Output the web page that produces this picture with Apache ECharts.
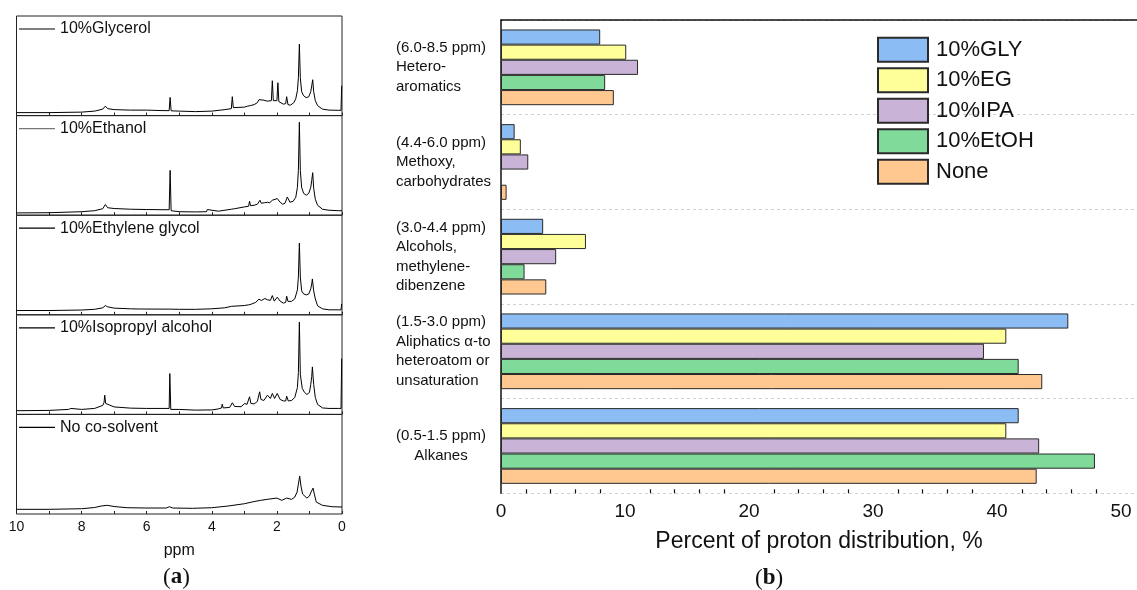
<!DOCTYPE html>
<html>
<head>
<meta charset="utf-8">
<script src="https://cdn.jsdelivr.net/npm/echarts@6/dist/echarts.min.js"></script>
<style>
html, body { margin: 0; padding: 0; background: #fff; }
#main { width: 1137px; height: 590px; }
</style>
</head>
<body>
<div id="main"></div>
<script>
// ---- (a) 1H NMR spectra: [ppm, signal height in % of its panel] ----
var specGlycerol = [
	[10.0,3],[9.0,3],[8.0,3.5],[7.6,4.5],[7.35,6.5],[7.27,9.5],[7.2,7],[7.0,6],[6.5,5.5],[6.0,5.5],[5.5,5],
	[5.31,5],[5.28,18.3],[5.25,4.8],[5.0,4.5],[4.5,4],[4.0,4.5],[3.6,6],[3.40,7],[3.37,19],[3.34,8],[3.0,8.5],
	[2.9,9.5],[2.86,11.5],[2.82,10],[2.7,11],[2.6,13],[2.55,16],[2.5,14],[2.4,15.5],[2.3,14.5],[2.24,16.5],
	[2.17,15],[2.14,35],[2.11,15],[2.05,16],[2.0,15],[1.97,33],[1.94,14],[1.88,13.5],[1.8,11.5],[1.73,12],
	[1.70,19],[1.66,11],[1.58,10.5],[1.48,13],[1.42,17],[1.37,25],[1.34,38],[1.31,71.7],[1.28,38],[1.24,24],
	[1.18,20],[1.1,18],[1.02,19],[0.96,24],[0.93,30],[0.90,36],[0.87,24],[0.82,15],[0.75,10],[0.6,6.5],
	[0.4,5.5],[0.1,5.3],[0.03,5.3],[0.01,30]
];
var specEthanol = [
	[10.0,2.3],[9.0,2.5],[8.0,3.5],[7.6,4.5],[7.35,6.5],[7.27,10.7],[7.2,7.5],[7.0,6.7],[6.5,6],[6.0,5.7],
	[5.5,5.5],[5.31,5.5],[5.28,45],[5.25,4.5],[5.0,3.5],[4.5,3.3],[4.16,3.5],[4.14,5.7],[4.1,4],[3.8,4],
	[3.5,5.5],[3.40,6],[3.37,7.3],[3.3,6.5],[3.0,8.3],[2.87,9],[2.84,14],[2.81,9.5],[2.7,10],[2.6,11],
	[2.52,15],[2.48,12],[2.45,13.5],[2.38,12.5],[2.29,13],[2.22,12.5],[2.14,15],[2.08,13],[1.99,16.7],
	[1.9,13],[1.82,11],[1.75,12],[1.68,18.3],[1.6,13],[1.5,14],[1.42,18],[1.37,28],[1.34,45],[1.31,93.3],
	[1.28,45],[1.24,28],[1.18,22],[1.1,20],[1.02,22],[0.96,28],[0.93,35],[0.90,42.7],[0.87,27],[0.82,16],
	[0.75,10],[0.6,6],[0.4,5],[0.1,4.5],[0.0,4.5]
];
var specEthyleneGlycol = [
	[10.0,4.3],[9.0,4.3],[8.0,4.8],[7.6,5.5],[7.35,7],[7.27,9.3],[7.2,8],[7.0,6.7],[6.5,6],[6.18,5.8],
	[6.16,7],[6.14,5.7],[5.5,5.7],[5.28,5.7],[5.0,5.5],[4.5,5.5],[4.0,6],[3.6,7],[3.40,8.5],[3.37,10.3],
	[3.34,8.5],[3.0,9.3],[2.87,10],[2.84,11.7],[2.8,10.5],[2.65,12.5],[2.55,15.7],[2.48,14.3],[2.37,16.3],
	[2.28,15],[2.2,14.5],[2.14,19.3],[2.08,13.7],[1.99,17.7],[1.9,13.7],[1.8,11.7],[1.73,12.5],[1.70,18.7],
	[1.66,13.5],[1.55,13.5],[1.45,16],[1.37,25],[1.34,38],[1.31,72],[1.28,38],[1.24,24],[1.18,21],[1.1,20],
	[1.02,21],[0.96,26],[0.93,31],[0.91,36],[0.87,24],[0.82,16],[0.75,9],[0.6,6],[0.4,5],[0.1,5],[0.03,5],
	[0.01,11]
];
var specIsopropyl = [
	[10.0,3.7],[9.0,4],[8.4,5],[8.33,6],[8.28,5],[8.0,5],[7.6,6],[7.35,9],[7.31,12],[7.29,19.3],[7.26,11],
	[7.2,9.3],[7.0,7.5],[6.5,6.3],[6.0,6],[5.5,6],[5.31,6],[5.29,41],[5.26,5],[5.0,5],[4.5,4.3],[4.0,4.5],
	[3.8,5.5],[3.7,6.5],[3.68,10.3],[3.65,6.5],[3.45,7],[3.37,11.7],[3.3,8],[3.1,7.7],[2.99,11],[2.92,10],
	[2.87,12],[2.84,17.7],[2.8,11],[2.7,10.5],[2.6,13],[2.53,22.7],[2.49,15],[2.4,14],[2.35,13.5],[2.29,19.3],
	[2.2,16],[2.14,21],[2.07,16],[1.99,21],[1.9,15],[1.8,13.5],[1.73,13.5],[1.70,18.3],[1.65,13.5],[1.55,14],
	[1.45,17],[1.37,27],[1.34,42],[1.31,92.7],[1.28,40],[1.26,39],[1.22,26],[1.15,22],[1.08,20],[1.0,22],
	[0.96,30],[0.93,38],[0.91,47.7],[0.87,30],[0.82,17],[0.75,10],[0.6,6.5],[0.4,6],[0.1,6],[0.03,6],[0.01,56]
];
var specNoSolvent = [
	[10.0,4.7],[9.0,4.7],[8.0,5.3],[7.6,6.5],[7.4,8],[7.21,8.7],[7.0,7.5],[6.6,6.3],[6.0,6],[5.4,6],[5.3,7.3],
	[5.2,6],[4.6,5.7],[4.0,6.3],[3.5,8],[3.0,10.3],[2.7,12.5],[2.5,13.7],[2.3,14.7],[2.0,16],[1.94,17],
	[1.85,13.7],[1.7,16],[1.55,14.7],[1.45,17],[1.38,22],[1.34,30],[1.30,38],[1.26,28],[1.21,20],[1.15,18.7],
	[1.08,16],[1.0,18],[0.95,22],[0.89,26],[0.85,20],[0.79,12],[0.6,8.7],[0.3,7.3],[0.0,7]
];
var spectraNames = ['10%Glycerol', '10%Ethanol', '10%Ethylene glycol', '10%Isopropyl alcohol', 'No co-solvent'];
var spectraData = [specGlycerol, specEthanol, specEthyleneGlycol, specIsopropyl, specNoSolvent];
var legendLineColors = ['#000', '#777', '#000', '#000', '#000'];

// ---- (b) proton distribution, % (top group first) ----
var groupLabels = [
	['(6.0-8.5 ppm)', 'Hetero-', 'aromatics'],
	['(4.4-6.0 ppm)', 'Methoxy,', 'carbohydrates'],
	['(3.0-4.4 ppm)', 'Alcohols,', 'methylene-', 'dibenzene'],
	['(1.5-3.0 ppm)', 'Aliphatics \u03b1-to', 'heteroatom or', 'unsaturation'],
	['(0.5-1.5 ppm)', '#Alkanes']
];
var seriesNames = ['10%GLY', '10%EG', '10%IPA', '10%EtOH', 'None'];
var valGLY  = [8.0, 1.1, 3.4, 45.75, 41.75];
var valEG   = [10.1, 1.6, 6.85, 40.75, 40.75];
var valIPA  = [11.05, 2.2, 4.45, 38.95, 43.4];
var valEtOH = [8.4, null, 1.9, 41.75, 47.9];
var valNone = [9.1, 0.45, 3.65, 43.65, 43.2];
var barColors = ['#8bbcf4', '#ffff99', '#c9b3d6', '#80da9a', '#ffc891'];

var chart = echarts.init(document.getElementById('main'), null, { renderer: 'canvas' });

var font = 'Liberation Sans, Arial, sans-serif';
var panelTop = 16, panelH = 99.6;
var grids = [], xAxes = [], yAxes = [], series = [], legends = [];

// category value arrives as the comma-joined array
function labelText(v) {
	var lines = String(v).split(/,(?=[(A-Za-z#])/);
	return lines.map(function (s) {
		return s.charAt(0) === '#' ? '{c|' + s.slice(1) + '}' : '{l|' + s + '}';
	}).join('\n');
}

for (var i = 0; i < 5; i++) {
	var last = (i === 4);
	grids.push({
		left: 16.5, top: panelTop + i * panelH, width: 325.5, height: panelH, outerBoundsMode: 'none',
		show: true, borderColor: '#222', borderWidth: 1, backgroundColor: 'transparent'
	});
	xAxes.push({
		type: 'value', gridIndex: i, min: 0, max: 10, interval: 1, inverse: true,
		axisLine: { show: false },
		axisTick: { inside: true, length: 3, lineStyle: { color: '#222' } },
		splitLine: { show: false },
		axisLabel: {
			show: last, fontSize: 14, color: '#111', margin: 6, fontFamily: font,
			formatter: function (v) { return v % 2 === 0 ? v : ''; }
		},
		name: last ? 'ppm' : '', nameLocation: 'middle', nameGap: 29,
		nameTextStyle: { fontSize: 16, color: '#111', fontFamily: font }
	});
	yAxes.push({ type: 'value', gridIndex: i, min: 0, max: 100, show: false });
	series.push({
		name: spectraNames[i], type: 'line', xAxisIndex: i, yAxisIndex: i,
		data: spectraData[i], symbol: 'none', animation: false,
		lineStyle: { color: '#000', width: 1 }, itemStyle: { color: '#000' }
	});
	legends.push({
		data: [{ name: spectraNames[i], icon: 'rect', itemStyle: { color: legendLineColors[i] } }],
		left: 19, top: panelTop + i * panelH + 5, padding: 0,
		itemWidth: 36, itemHeight: 1.2, selectedMode: false,
		textStyle: { fontSize: 16, color: '#111', fontFamily: font }
	});
}

// (b) grid; axis runs to 60 so the visible part ends near 51 at the page edge
var gb = 5;
grids.push({ left: 501, top: 20, width: 744, height: 473.3, outerBoundsMode: 'none' });
xAxes.push({
	type: 'value', gridIndex: gb, min: 0, max: 60, interval: 10,
	axisLine: { lineStyle: { color: '#111', width: 1.5 } },
	axisTick: { inside: true, length: 8, lineStyle: { color: '#111', width: 1.5 } },
	minorTick: { show: true, splitNumber: 5, length: 4, lineStyle: { color: '#111', width: 1.2 } },
	splitLine: { show: false },
	axisLabel: { fontSize: 19, color: '#111', margin: 9, fontFamily: font },
	name: 'Percent of proton distribution, %', nameLocation: 'middle', nameGap: 37,
	nameTextStyle: { fontSize: 23, color: '#111', fontFamily: font, padding: [0, 108, 0, 0] }
});
xAxes.push({
	type: 'value', gridIndex: gb, min: 0, max: 60, position: 'top',
	axisLine: { show: true, lineStyle: { color: '#111', width: 1.5 } },
	axisTick: { show: false }, axisLabel: { show: false }, splitLine: { show: false }
});
yAxes.push({
	type: 'category', gridIndex: gb, inverse: true, data: groupLabels,
	axisLine: { lineStyle: { color: '#111', width: 1.5 } },
	axisTick: { length: 4, lineStyle: { color: '#111', width: 1.5 } },
	splitLine: { show: true, lineStyle: { color: '#d0d0d0', type: [3, 3], width: 1 } },
	axisLabel: {
		align: 'left', margin: 105, color: '#111', fontFamily: font, fontSize: 15, lineHeight: 19.5,
		formatter: labelText,
		rich: {
			l: { fontSize: 15, lineHeight: 19.5, color: '#111', fontFamily: font, align: 'left' },
			c: { fontSize: 15, lineHeight: 19.5, color: '#111', fontFamily: font, align: 'center' }
		}
	}
});
yAxes.push({
	type: 'category', gridIndex: gb, inverse: true, data: groupLabels, position: 'left',
	axisLine: { show: false },
	axisTick: { inside: true, length: 4, lineStyle: { color: '#111', width: 1.5 } },
	axisLabel: { show: false }, splitLine: { show: false }
});

var barVals = [valGLY, valEG, valIPA, valEtOH, valNone];
for (var k = 0; k < 5; k++) {
	series.push({
		name: seriesNames[k], type: 'bar', xAxisIndex: 5, yAxisIndex: 5,
		data: barVals[k], barGap: '0%', barCategoryGap: '20%', animation: false,
		itemStyle: { color: barColors[k], borderColor: '#2a2a2a', borderWidth: 1 }
	});
}
legends.push({
	data: seriesNames, orient: 'vertical', left: 877, top: 36.7, padding: 0, icon: 'rect',
	itemWidth: 50, itemHeight: 24, itemGap: 4.5, selectedMode: false,
	textStyle: { fontSize: 22, color: '#111', fontFamily: font, padding: [0, 0, 0, 3] }
});

var option = {
	backgroundColor: '#fff',
	textStyle: { fontFamily: font },
	animation: false,
	grid: grids,
	xAxis: xAxes,
	yAxis: yAxes,
	legend: legends,
	series: series,
	graphic: [
		{ type: 'text', left: 163, top: 566, style: { text: '({b|a})', fontSize: 23, fontFamily: 'Liberation Serif, serif', fill: '#111',
			rich: { b: { fontWeight: 'bold', fontSize: 23, fontFamily: 'Liberation Serif, serif' } } } },
		{ type: 'text', left: 755, top: 567, style: { text: '({b|b})', fontSize: 23, fontFamily: 'Liberation Serif, serif', fill: '#111',
			rich: { b: { fontWeight: 'bold', fontSize: 23, fontFamily: 'Liberation Serif, serif' } } } }
	]
};

chart.setOption(option, true);
</script>
</body>
</html>
